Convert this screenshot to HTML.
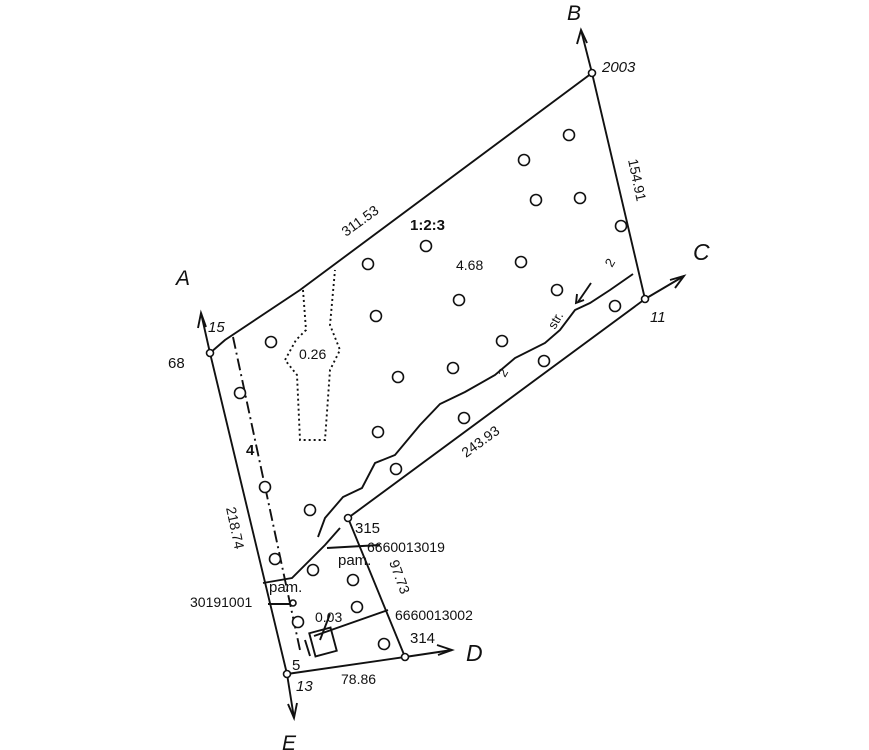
<!DOCTYPE html>
<html><head><style>
body{margin:0;background:#fff;}
svg{display:block}
text{font-family:"Liberation Sans",sans-serif;fill:#111;}
</style></head><body>
<svg width="869" height="750" viewBox="0 0 869 750" xmlns="http://www.w3.org/2000/svg">
<g stroke="#111" stroke-width="1.9" fill="none">
<polyline points="210,353 225,340 300,290 592,73 645,299 348,518 405,657 287,674 210,353"/>
<line x1="210" y1="353" x2="201" y2="313"/><polyline points="198,328 201,313 206,327"/>
<line x1="592" y1="73" x2="581" y2="30"/><polyline points="577,44 581,30 587,43"/>
<line x1="645" y1="299" x2="684" y2="276"/><polyline points="670,280 684,276 675,288"/>
<line x1="405" y1="657" x2="452" y2="650"/><polyline points="437,645 452,650 438,655"/>
<line x1="287" y1="674" x2="294" y2="718"/><polyline points="288,704 294,718 297,703"/>
<polyline points="318,537 325,518 343,497 362,488 375,463 395,455 420,425 440,404 465,392 495,375 515,358 545,343 560,330 575,310 590,303 610,290 633,274"/>
<polyline points="591,283 578,302" /><polyline points="577,294 576,303 584,300"/>
<polyline points="233,337 300,650" stroke-dasharray="12,4,2,4"/>
<polyline points="263,583 292,578 325,545 340,528"/>
<line x1="314" y1="636" x2="388" y2="610"/>
<line x1="327" y1="548" x2="380" y2="545"/>
<line x1="268" y1="604" x2="292" y2="604"/>
<line x1="310" y1="656" x2="305" y2="640"/>
<rect x="312" y="630" width="22" height="24" transform="rotate(-15 323 642)"/>
<line x1="320" y1="640" x2="330" y2="614"/>
<polyline points="303,290 306,330 296,340 285,360 297,375 300,440 325,440 330,370 340,350 330,325 335,270" stroke-dasharray="2,3"/>
</g>
<g stroke="#111" stroke-width="1.6" fill="#fff">
<circle cx="210" cy="353" r="3.5"/><circle cx="592" cy="73" r="3.5"/><circle cx="645" cy="299" r="3.5"/>
<circle cx="348" cy="518" r="3.5"/><circle cx="405" cy="657" r="3.5"/><circle cx="287" cy="674" r="3.5"/>
<circle cx="293" cy="603" r="3"/>
<circle cx="569" cy="135" r="5.5"/><circle cx="524" cy="160" r="5.5"/><circle cx="536" cy="200" r="5.5"/><circle cx="580" cy="198" r="5.5"/>
<circle cx="621" cy="226" r="5.5"/><circle cx="426" cy="246" r="5.5"/><circle cx="521" cy="262" r="5.5"/><circle cx="368" cy="264" r="5.5"/>
<circle cx="459" cy="300" r="5.5"/><circle cx="376" cy="316" r="5.5"/><circle cx="271" cy="342" r="5.5"/><circle cx="615" cy="306" r="5.5"/>
<circle cx="557" cy="290" r="5.5"/><circle cx="544" cy="361" r="5.5"/><circle cx="398" cy="377" r="5.5"/><circle cx="453" cy="368" r="5.5"/>
<circle cx="502" cy="341" r="5.5"/><circle cx="240" cy="393" r="5.5"/><circle cx="464" cy="418" r="5.5"/><circle cx="378" cy="432" r="5.5"/>
<circle cx="265" cy="487" r="5.5"/><circle cx="396" cy="469" r="5.5"/><circle cx="310" cy="510" r="5.5"/><circle cx="275" cy="559" r="5.5"/>
<circle cx="313" cy="570" r="5.5"/><circle cx="353" cy="580" r="5.5"/><circle cx="357" cy="607" r="5.5"/><circle cx="298" cy="622" r="5.5"/>
<circle cx="384" cy="644" r="5.5"/>
</g>
<text x="176" y="285" font-family="Liberation Serif" font-style="italic" font-size="21">A</text>
<text x="567" y="20" font-family="Liberation Serif" font-style="italic" font-size="21">B</text>
<text x="693" y="260" font-family="Liberation Serif" font-style="italic" font-size="23">C</text>
<text x="466" y="661" font-family="Liberation Serif" font-style="italic" font-size="23">D</text>
<text x="282" y="750" font-family="Liberation Serif" font-style="italic" font-size="21">E</text>
<text x="602" y="72" font-size="15" font-style="italic">2003</text>
<text x="650" y="322" font-size="15" font-style="italic">11</text>
<text x="208" y="332" font-size="15" font-style="italic">15</text>
<text x="168" y="368" font-size="15">68</text>
<text x="355" y="533" font-size="15">315</text>
<text x="410" y="643" font-size="15">314</text>
<text x="292" y="670" font-size="15">5</text>
<text x="296" y="691" font-size="15" font-style="italic">13</text>
<text x="341" y="684" font-size="14">78.86</text>
<text x="410" y="230" font-size="15" font-weight="bold">1:2:3</text>
<text x="456" y="270" font-size="14">4.68</text>
<text x="299" y="359" font-size="14">0.26</text>
<text x="315" y="622" font-size="14">0.03</text>
<text x="367" y="552" font-size="14">6660013019</text>
<text x="395" y="620" font-size="14">6660013002</text>
<text x="190" y="607" font-size="14">30191001</text>
<text x="338" y="565" font-family="Liberation Serif" font-size="15">pam.</text>
<text x="269" y="592" font-family="Liberation Serif" font-size="15">pam.</text>
<text x="246" y="455" font-size="15" font-weight="bold">4</text>
<text transform="translate(346,237) rotate(-36)" font-size="14">311.53</text>
<text transform="translate(466,458) rotate(-36)" font-size="14">243.93</text>
<text transform="translate(628,160) rotate(78)" font-size="14">154.91</text>
<text transform="translate(226,508) rotate(78)" font-size="14">218.74</text>
<text transform="translate(389,562) rotate(70)" font-size="14">97.73</text>
<text transform="translate(555,330) rotate(-60)" font-size="13">str.</text>
<text transform="translate(612,268) rotate(-60)" font-size="13">2</text>
<text transform="translate(505,378) rotate(-60)" font-size="13">2</text>
</svg>
</body></html>
